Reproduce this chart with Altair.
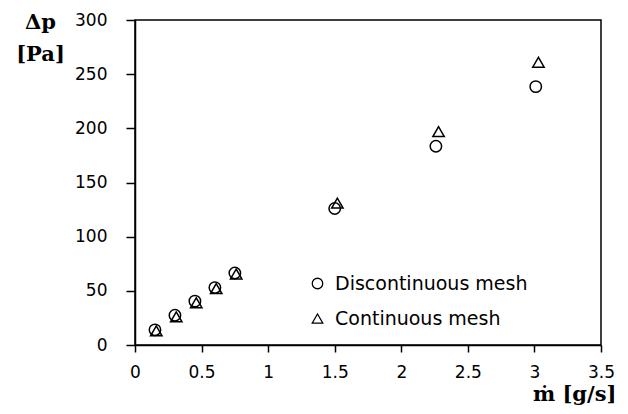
import altair as alt
import pandas as pd

series = ["Discontinuous mesh", "Continuous mesh"]
m_disc = [0.15, 0.30, 0.45, 0.60, 0.75, 1.50, 2.26, 3.01]
dp_disc = [14, 27.5, 40.5, 53, 66.5, 126, 183.5, 238.5]
m_cont = [0.16, 0.31, 0.46, 0.61, 0.76, 1.52, 2.28, 3.03]
dp_cont = [13, 26, 39, 52, 65.5, 131, 197, 261]
x_ticks = [0, 0.5, 1, 1.5, 2, 2.5, 3, 3.5]
y_ticks = [0, 50, 100, 150, 200, 250, 300]

df = pd.DataFrame(
    {"m": m_disc + m_cont,
     "dp": dp_disc + dp_cont,
     "series": [series[0]] * len(m_disc) + [series[1]] * len(m_cont)}
)

chart = alt.Chart(df).mark_point(
    filled=False, color="black", strokeWidth=1.5, size=130, opacity=1
).encode(
    x=alt.X("m:Q",
            scale=alt.Scale(domain=[0, 3.5], nice=False, zero=False),
            axis=alt.Axis(values=x_ticks, format="~g", grid=False,
                          labelFlush=False,
                          title="ṁ [g/s]", titleFont="DejaVu Serif",
                          titleFontWeight="bold", titleFontSize=21,
                          titleAlign="right", titleAnchor="end",
                          titleX=481, titleY=55, titleBaseline="alphabetic",
                          titleColor="black",
                          labelFont="DejaVu Sans", labelFontSize=17,
                          labelColor="black", labelPadding=12,
                          tickSize=7, tickColor="black", tickWidth=1.5,
                          domainColor="black", domainWidth=1.5)),
    y=alt.Y("dp:Q",
            scale=alt.Scale(domain=[0, 300], nice=False),
            axis=alt.Axis(values=y_ticks, grid=False, labelFlush=False,
                          title=["Δp", "[Pa]"], titleFont="DejaVu Serif",
                          titleFontWeight="bold", titleFontSize=21,
                          titleAngle=0, titleAlign="center",
                          titleX=-95, titleY=8, titleBaseline="alphabetic",
                          titleLineHeight=32, titleColor="black",
                          labelFont="DejaVu Sans", labelFontSize=17,
                          labelColor="black", labelPadding=19,
                          tickSize=9, tickColor="black", tickWidth=1.5,
                          domainColor="black", domainWidth=1.5)),
    shape=alt.Shape("series:N",
                    scale=alt.Scale(domain=series, range=["circle", "triangle-up"]),
                    legend=alt.Legend(title=None, orient="none",
                                      legendX=173, legendY=254,
                                      labelFont="DejaVu Sans", labelFontSize=19,
                                      labelColor="black", labelOffset=8,
                                      labelLimit=400,
                                      symbolSize=110, symbolStrokeColor="black",
                                      symbolFillColor="transparent",
                                      symbolStrokeWidth=1.3, rowPadding=15,
                                      padding=0)),
).properties(
    width=466, height=325,
    autosize=alt.AutoSizeParams(type="none"),
    padding={"left": 127, "top": 12, "right": 19, "bottom": 61},
).configure(
    background="white"
).configure_view(
    stroke="black", strokeWidth=1.5
)

chart.save("out.html", embed_options={"renderer": "svg", "actions": False})
